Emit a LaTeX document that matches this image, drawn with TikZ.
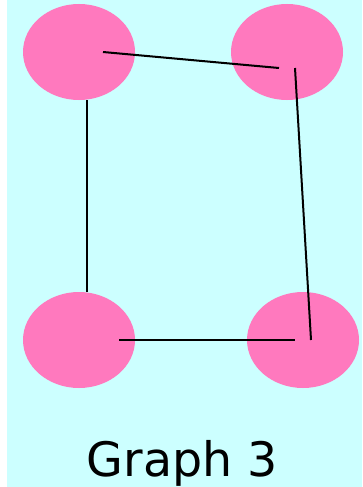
\documentclass[tikz,border=0pt]{standalone}
\usepackage{fontspec}
\setmainfont{DejaVu Sans}
\usetikzlibrary{shapes.geometric}
\definecolor{bgc}{HTML}{CCFFFF}
\definecolor{pinkc}{HTML}{FF79BE}
\begin{document}
\begin{tikzpicture}[x=1pt,y=-1pt,
  vert/.style={ellipse,fill=pinkc,minimum width=112pt,minimum height=96pt,inner sep=0pt},
  edge/.style={black,line width=2pt}]
\useasboundingbox (0,0) rectangle (362,487);
\fill[bgc] (7,0) rectangle (362,487);
\node[vert] (tl) at (79,52) {};
\node[vert] (tr) at (287,52) {};
\node[vert] (bl) at (79,340) {};
\node[vert] (br) at (303,340) {};
\coordinate (a1) at (103,52);
\coordinate (a2) at (279,68);
\coordinate (b1) at (295,68);
\coordinate (b2) at (311,340);
\coordinate (c1) at (119,340);
\coordinate (c2) at (295,340);
\coordinate (d1) at (87,100);
\coordinate (d2) at (87,292);
\draw[edge] (a1) -- (a2);
\draw[edge] (b1) -- (b2);
\draw[edge] (c1) -- (c2);
\draw[edge] (d1) -- (d2);
\node[font=\fontsize{47.5}{57}\selectfont,anchor=base] (lbl) at (182.5,476) {Graph 3};
\end{tikzpicture}
\end{document}
